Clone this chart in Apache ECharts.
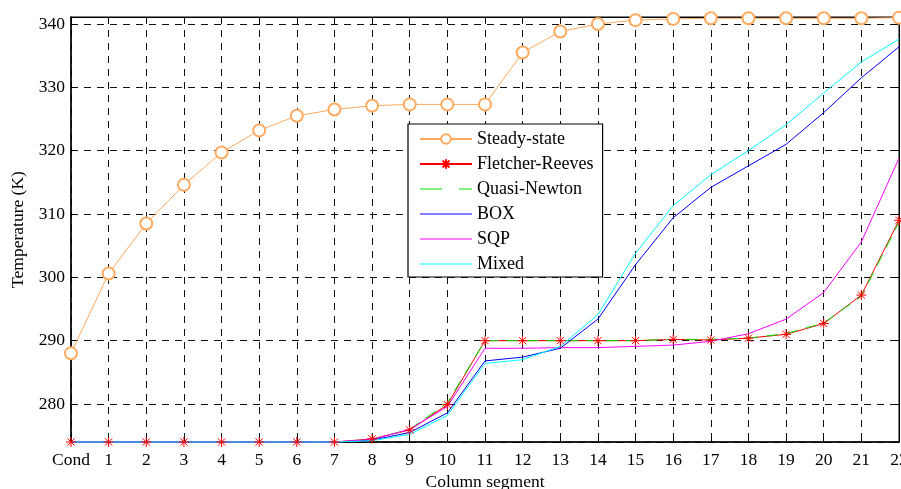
<!DOCTYPE html>
<html>
<head>
<meta charset="utf-8">
<script src="https://cdn.jsdelivr.net/npm/echarts@6/dist/echarts.min.js"></script>
<style>
  html, body { margin: 0; padding: 0; width: 100%; height: 100%; overflow: hidden; background: #fff; }
  #chart { width: 901px; height: 489px; }
</style>
</head>
<body>
<div id="chart"></div>
<script>
const categories = ['Cond', '1', '2', '3', '4', '5', '6', '7', '8', '9', '10', '11',
  '12', '13', '14', '15', '16', '17', '18', '19', '20', '21', '22']

const steadyState = [288.0, 300.6, 308.5, 314.6, 319.7, 323.2, 325.5, 326.5, 327.1, 327.3, 327.3, 327.3,
  335.5, 338.8, 340.0, 340.6, 340.8, 340.9, 340.9, 340.9, 340.9, 340.9, 341.0]
const fletcherReeves = [274, 274, 274, 274, 274, 274, 274, 274, 274.5, 275.9, 279.9, 290.0,
  290.0, 290.0, 290.0, 290.0, 290.2, 290.1, 290.4, 291.0, 292.7, 297.2, 309.0]
const quasiNewton = [274, 274, 274, 274, 274, 274, 274, 274, 274.4, 276.0, 280.2, 290.0,
  290.0, 290.0, 290.0, 290.0, 290.2, 290.2, 290.4, 291.1, 292.8, 297.0, 308.7]
const box = [274, 274, 274, 274, 274, 274, 274, 274, 274.3, 275.5, 278.6, 286.8,
  287.4, 288.8, 293.4, 302.0, 309.4, 314.2, 317.6, 321.0, 326.0, 331.5, 336.4]
const sqp = [274, 274, 274, 274, 274, 274, 274, 274, 274.4, 276.0, 279.6, 288.8,
  288.8, 288.9, 288.9, 289.1, 289.3, 289.9, 291.1, 293.4, 297.6, 305.6, 318.8]
const mixed = [274, 274, 274, 274, 274, 274, 274, 274, 274.2, 275.2, 278.2, 286.4,
  287.0, 289.1, 294.1, 303.8, 311.3, 316.2, 320.0, 324.1, 329.1, 334.0, 337.6]

const font = 'Liberation Serif'
const gridDash = { color: '#111', width: 1, type: [7, 6] }
const star = 'path://M0,-5L0,5M-5,0L5,0M-3.6,-3.6L3.6,3.6M-3.6,3.6L3.6,-3.6'
// legend icons for series drawn without markers
const plainLine = 'path://M0,0H52V1.2H0Z'
const dashLine = 'path://M0,0H22V1.2H0ZM39,0H52V1.2H39Z'

const chart = echarts.init(document.getElementById('chart'))

chart.setOption({
  backgroundColor: '#fff',
  animation: false,
  textStyle: { fontFamily: font },
  grid: {
    left: 71, right: 2, top: 17, bottom: 47,
    outerBoundsMode: 'none',
    show: true, borderColor: '#000', borderWidth: 1,
  },
  legend: {
    orient: 'vertical',
    left: 408,
    top: 124,
    padding: [6, 9, 4, 11],
    itemWidth: 52,
    itemHeight: 12,
    itemGap: 7,
    backgroundColor: '#fff',
    borderColor: '#000',
    borderWidth: 1.2,
    textStyle: { fontFamily: font, fontSize: 18, lineHeight: 18, color: '#000' },
    data: [
      'Steady-state',
      'Fletcher-Reeves',
      { name: 'Quasi-Newton', icon: dashLine },
      { name: 'BOX', icon: plainLine },
      { name: 'SQP', icon: plainLine },
      { name: 'Mixed', icon: plainLine },
    ],
  },
  xAxis: [
    {
      type: 'category',
      data: categories,
      boundaryGap: false,
      name: 'Column segment',
      nameLocation: 'middle',
      nameGap: 31,
      nameTextStyle: { fontFamily: font, fontSize: 17.5, color: '#000' },
      axisLine: { lineStyle: { color: '#000', width: 1.5 } },
      axisTick: { inside: true, length: 5, lineStyle: { color: '#000' } },
      axisLabel: { fontFamily: font, fontSize: 17.5, color: '#000', margin: 9, interval: 0 },
      splitLine: { show: true, lineStyle: gridDash },
    },
    {
      type: 'category',
      data: categories,
      boundaryGap: false,
      position: 'top',
      axisLine: { lineStyle: { color: '#000' } },
      axisTick: { inside: true, length: 5, lineStyle: { color: '#000' } },
      axisLabel: { show: false },
      splitLine: { show: false },
    },
  ],
  yAxis: [
    {
      type: 'value',
      min: 274,
      max: 341.1,
      splitNumber: 6,
      name: 'Temperature (K)',
      nameLocation: 'middle',
      nameGap: 35,
      nameTextStyle: { fontFamily: font, fontSize: 17.5, color: '#000' },
      axisLine: { show: true, lineStyle: { color: '#000', width: 1.5 } },
      axisTick: { show: true, inside: true, length: 5, lineStyle: { color: '#000' } },
      axisLabel: {
        fontFamily: font, fontSize: 17.5, color: '#000', margin: 6,
        showMinLabel: false, showMaxLabel: false,
        formatter: v => (v % 10 === 0 ? v : ''),
      },
      splitLine: { show: true, lineStyle: gridDash },
    },
    {
      type: 'value',
      min: 274,
      max: 341.1,
      splitNumber: 6,
      position: 'right',
      axisLine: { show: true, lineStyle: { color: '#000' } },
      axisTick: { show: true, inside: true, length: 5, lineStyle: { color: '#000' } },
      axisLabel: { show: false },
      splitLine: { show: false },
    },
  ],
  series: [
    {
      name: 'Steady-state',
      type: 'line',
      data: steadyState,
      clip: false,
      symbol: 'emptyCircle',
      symbolSize: 12,
      color: '#FFAA5E',
      lineStyle: { color: '#FFAA5E', width: 1 },
      itemStyle: { color: '#FFAA5E', borderColor: '#FFAA5E', borderWidth: 1 },
    },
    {
      name: 'Fletcher-Reeves',
      type: 'line',
      data: fletcherReeves,
      clip: false,
      symbol: star,
      symbolSize: 10,
      color: '#FF0000',
      lineStyle: { color: '#FF0000', width: 1 },
      itemStyle: { color: '#FF0000', borderColor: '#FF0000', borderWidth: 1 },
    },
    {
      name: 'Quasi-Newton',
      type: 'line',
      data: quasiNewton,
      clip: false,
      symbol: 'none',
      color: '#00E000',
      lineStyle: { color: '#00E000', width: 1, type: [12, 8] },
    },
    {
      name: 'BOX',
      type: 'line',
      data: box,
      clip: false,
      symbol: 'none',
      color: '#0000FF',
      lineStyle: { color: '#0000FF', width: 1 },
    },
    {
      name: 'SQP',
      type: 'line',
      data: sqp,
      clip: false,
      symbol: 'none',
      color: '#FF00FF',
      lineStyle: { color: '#FF00FF', width: 1 },
    },
    {
      name: 'Mixed',
      type: 'line',
      data: mixed,
      clip: false,
      symbol: 'none',
      color: '#00FFFF',
      lineStyle: { color: '#00FFFF', width: 1 },
    },
  ],
})
</script>
</body>
</html>
